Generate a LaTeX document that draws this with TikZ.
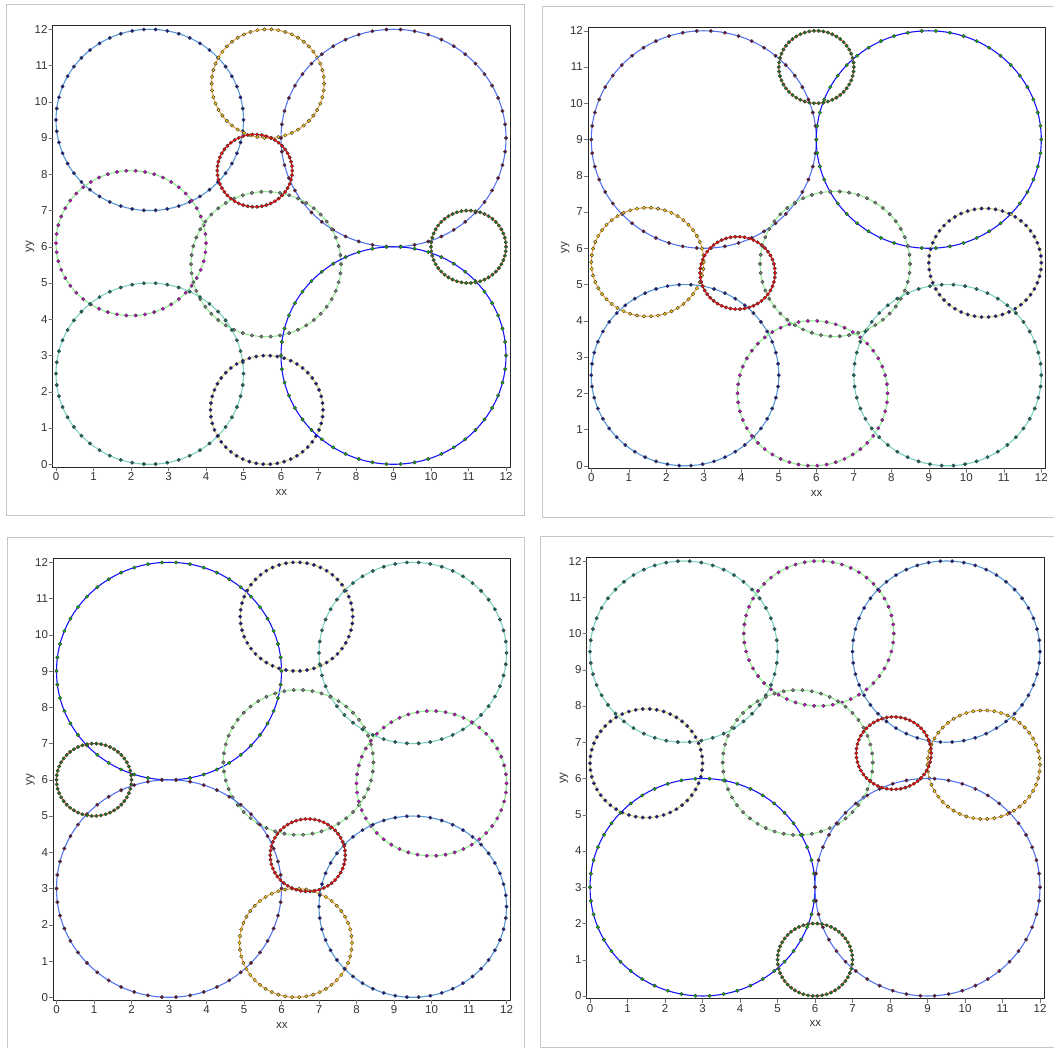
\documentclass[tikz,border=0pt]{standalone}
\usepackage{fontspec}
\setsansfont{Liberation Sans}
\usepackage{tikz}
\usetikzlibrary{calc}

% one circle of the plot: line plus 50 markers
\newcommand{\ringplot}[4]{% centre x, centre y, radius, series
  \draw[ln#4] (#1,#2) circle[radius=#3];
  \foreach \k in {0,...,49}
    \filldraw[pt#4] ({#1+#3*cos(7.2*\k)},{#2+#3*sin(7.2*\k)}) circle[radius=1.75pt];
}

% frame, box, ticks and axis labels of one panel
\newcommand{\plotaxes}{%
  \draw[gray!45, line width=1pt] (-49.3pt,-51.7pt) rectangle (468pt,459.3pt);
  \draw[black!85, line width=0.9pt] (-0.088,-0.075) rectangle (12.107,12.1);
  \foreach \t in {0,...,12} {
    \draw[black!55] (\t,-0.075) -- ++(0,-4pt) node[below, inner sep=1.2pt, ticklabel] {\t};
    \draw[black!55] (-0.088,\t) -- ++(-4pt,0) node[left, inner sep=1pt, ticklabel] {\t};
  }
  \node[ticklabel] at ($(6.01,0)+(0,-27.7pt)$) {xx};
  \node[ticklabel, rotate=90] at ($(0,6.01)+(-26pt,0)$) {yy};
}

\begin{document}
\begin{tikzpicture}[x=1pt, y=1pt, line cap=round, line join=round]

  % Colors
  \definecolor{blueALine}{RGB}{20,20,250}
  \definecolor{blueBLine}{RGB}{85,115,240}
  \definecolor{steelLine}{RGB}{85,150,215}
  \definecolor{tealLine}{RGB}{125,210,190}
  \definecolor{greenLine}{RGB}{145,238,145}
  \definecolor{orangeLine}{RGB}{232,165,85}
  \definecolor{khakiLine}{RGB}{212,208,125}
  \definecolor{rustLine}{RGB}{228,85,50}
  \definecolor{maroonDot}{RGB}{110,10,55}
  \definecolor{navyDot}{RGB}{20,20,150}
  \definecolor{tealDot}{RGB}{10,110,105}
  \definecolor{greenDot}{RGB}{0,185,0}
  \definecolor{darkgreenDot}{RGB}{20,125,20}
  \definecolor{magentaDot}{RGB}{220,0,220}
  \definecolor{goldDot}{RGB}{255,205,0}

  \tikzset{
    ticklabel/.style={font=\sffamily\fontsize{11.5}{13}\selectfont, text=black!80},
    dot/.style={draw=black!75, line width=0.45pt},
    lnBlueA/.style={blueALine, line width=1.1pt},   ptBlueA/.style={dot, fill=greenDot},
    lnBlueB/.style={blueBLine, line width=1.1pt},   ptBlueB/.style={dot, fill=maroonDot},
    lnSteel/.style={steelLine, line width=1.1pt},   ptSteel/.style={dot, fill=navyDot},
    lnTeal/.style={tealLine, line width=1.1pt},     ptTeal/.style={dot, fill=tealDot},
    lnGreenM/.style={greenLine, line width=1.1pt},  ptGreenM/.style={dot, fill=magentaDot},
    lnGreenG/.style={greenLine, line width=1.1pt},  ptGreenG/.style={dot, fill=gray},
    lnOrange/.style={orangeLine, line width=1.1pt}, ptOrange/.style={dot, fill=goldDot},
    lnKhaki/.style={khakiLine, line width=1.1pt},   ptKhaki/.style={dot, fill=navyDot},
    lnRed/.style={red, line width=1.1pt},           ptRed/.style={dot, fill=red},
    lnRust/.style={rustLine, line width=1.1pt},     ptRust/.style={dot, fill=darkgreenDot},
  }

  \useasboundingbox (0,0) rectangle (1054,1048);
  \clip (0,0) rectangle (1054,1048);

  % Panel top left
  \begin{scope}[shift={(56pt,583.7pt)}, x=37.5pt, y=36.25pt]
    \plotaxes
    \ringplot{2.5}{9.5}{2.5}{Steel}
    \ringplot{5.65}{10.5}{1.5}{Orange}
    \ringplot{9}{9}{3}{BlueB}
    \ringplot{2}{6.1}{2}{GreenM}
    \ringplot{5.6}{5.52}{2}{GreenG}
    \ringplot{2.5}{2.5}{2.5}{Teal}
    \ringplot{5.62}{1.5}{1.5}{Khaki}
    \ringplot{9}{3}{3}{BlueA}
    \ringplot{11}{6}{1}{Rust}
    \ringplot{5.3}{8.1}{1}{Red}
  \end{scope}

  % Panel top right
  \begin{scope}[shift={(591.3pt,582.2pt)}, x=37.5pt, y=36.25pt]
    \plotaxes
    \ringplot{3}{9}{3}{BlueB}
    \ringplot{9}{9}{3}{BlueA}
    \ringplot{1.5}{5.62}{1.5}{Orange}
    \ringplot{6.5}{5.57}{2}{GreenG}
    \ringplot{10.5}{5.6}{1.5}{Khaki}
    \ringplot{2.5}{2.5}{2.5}{Steel}
    \ringplot{5.9}{2}{2}{GreenM}
    \ringplot{9.5}{2.5}{2.5}{Teal}
    \ringplot{6}{11}{1}{Rust}
    \ringplot{3.9}{5.32}{1}{Red}
  \end{scope}

  % Panel bottom left
  \begin{scope}[shift={(56.5pt,50.7pt)}, x=37.5pt, y=36.25pt]
    \plotaxes
    \ringplot{3}{9}{3}{BlueA}
    \ringplot{6.4}{10.5}{1.5}{Khaki}
    \ringplot{9.5}{9.5}{2.5}{Teal}
    \ringplot{6.45}{6.48}{2}{GreenG}
    \ringplot{10}{5.9}{2}{GreenM}
    \ringplot{3}{3}{3}{BlueB}
    \ringplot{6.38}{1.5}{1.5}{Orange}
    \ringplot{9.5}{2.5}{2.5}{Steel}
    \ringplot{1}{6}{1}{Rust}
    \ringplot{6.7}{3.92}{1}{Red}
  \end{scope}

  % Panel bottom right
  \begin{scope}[shift={(590pt,52pt)}, x=37.5pt, y=36.25pt]
    \plotaxes
    \ringplot{2.5}{9.5}{2.5}{Teal}
    \ringplot{6.1}{10}{2}{GreenM}
    \ringplot{9.5}{9.5}{2.5}{Steel}
    \ringplot{1.5}{6.42}{1.5}{Khaki}
    \ringplot{5.54}{6.44}{2}{GreenG}
    \ringplot{10.5}{6.38}{1.5}{Orange}
    \ringplot{3}{3}{3}{BlueA}
    \ringplot{9}{3}{3}{BlueB}
    \ringplot{6}{1}{1}{Rust}
    \ringplot{8.1}{6.7}{1}{Red}
  \end{scope}

\end{tikzpicture}
\end{document}
